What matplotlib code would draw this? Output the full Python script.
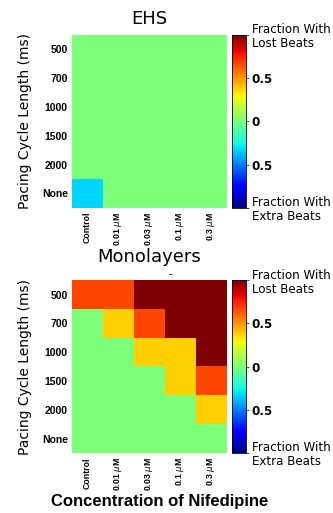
import numpy as np
import matplotlib
matplotlib.use('Agg')
import matplotlib.pyplot as plt

# data: rows = pacing cycle length, cols = nifedipine concentration
cycle_lengths = ['500', '700', '1000', '1500', '2000', 'None']
concentrations = ['Control', r'0.01 $\mu$M', r'0.03 $\mu$M', r'0.1 $\mu$M', r'0.3 $\mu$M']

# positive = fraction with lost beats, negative = fraction with extra beats
ehs = [[0, 0, 0, 0, 0],
       [0, 0, 0, 0, 0],
       [0, 0, 0, 0, 0],
       [0, 0, 0, 0, 0],
       [0, 0, 0, 0, 0],
       [-0.33, 0, 0, 0, 0]]

monolayers = [[0.67, 0.67, 1, 1, 1],
              [0, 0.38, 0.67, 1, 1],
              [0, 0, 0.38, 0.38, 1],
              [0, 0, 0, 0.38, 0.67],
              [0, 0, 0, 0, 0.38],
              [0, 0, 0, 0, 0]]

cbar_ticks = [-1, -0.5, 0, 0.5, 1]
cbar_labels = ['Fraction With\nExtra Beats', '0.5', '0', '0.5', 'Fraction With\nLost Beats']

fig = plt.figure(figsize=(3.33, 5.13), dpi=100)
BOLD = 'Liberation Sans'


def drawPanel(ax_rect, cax_rect, data, title, title_pad):
    ax = fig.add_axes(ax_rect)
    im = ax.imshow(np.array(data), cmap='jet', vmin=-1, vmax=1, aspect='auto', interpolation='nearest')
    ax.set_xticks(range(len(concentrations)))
    ax.set_xticklabels(concentrations, rotation=90, fontsize=6.3, fontweight='bold', family=BOLD)
    ax.set_yticks(range(len(cycle_lengths)))
    ax.set_yticklabels(cycle_lengths, fontsize=7.5, fontweight='bold', family=BOLD)
    ax.tick_params(length=0, pad=3)
    for s in ax.spines.values():
        s.set_visible(False)
    ax.set_ylabel('Pacing Cycle Length (ms)', fontsize=10, labelpad=7)
    ax.set_title(title, fontsize=13, pad=title_pad)

    cax = fig.add_axes(cax_rect)
    cb = fig.colorbar(im, cax=cax, ticks=cbar_ticks)
    cb.ax.set_yticklabels(cbar_labels, fontsize=8.6, linespacing=1.1)
    cb.ax.tick_params(length=2, width=0.5, pad=2)
    for lbl in cb.ax.get_yticklabels():
        if lbl.get_text() in ('0', '0.5'):
            lbl.set_fontweight('bold')
    cb.outline.set_linewidth(0.6)
    return ax


ax1 = drawPanel([0.216, 0.595, 0.463, 0.337], [0.697, 0.595, 0.042, 0.337], ehs, 'EHS', 8)
ax2 = drawPanel([0.216, 0.117, 0.463, 0.337], [0.697, 0.117, 0.042, 0.337], monolayers, 'Monolayers', 13)
fig.text(0.51, 0.466, '-', fontsize=7, ha='center', va='center')
fig.text(0.48, 0.022, 'Concentration of Nifedipine', fontsize=12, fontweight='bold', family=BOLD,
         ha='center', va='center')

fig.savefig('out.png', dpi=100)
